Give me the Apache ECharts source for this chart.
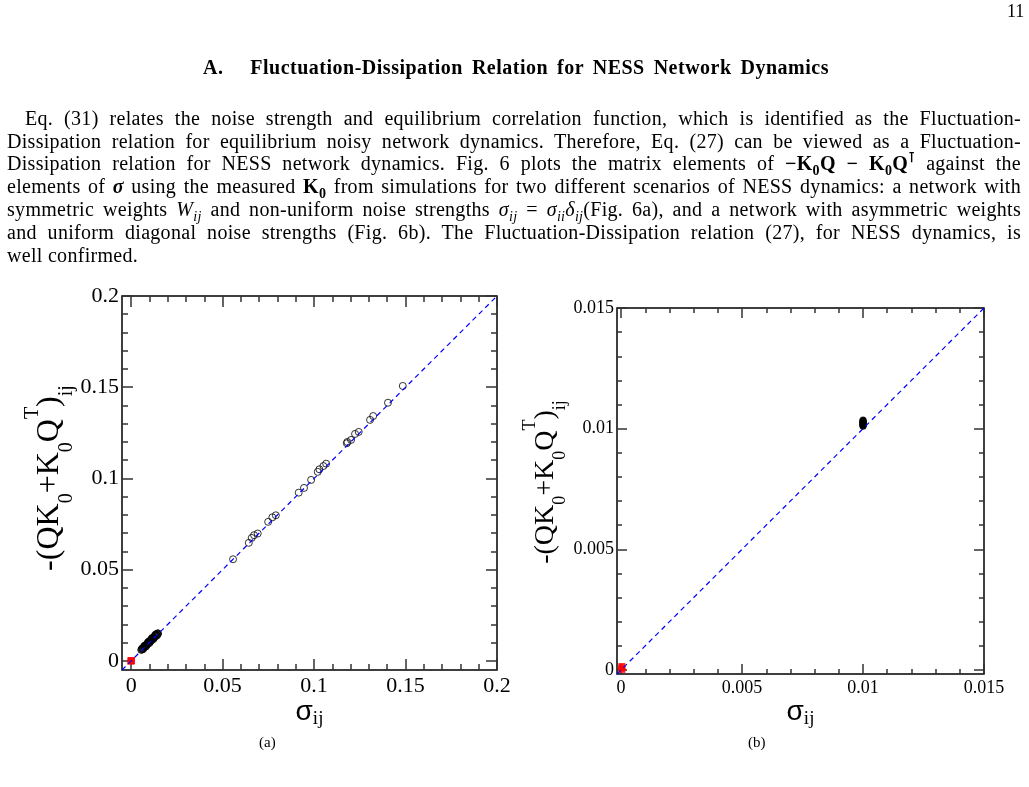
<!DOCTYPE html>
<html>
<head>
<meta charset="utf-8">
<script src="https://cdn.jsdelivr.net/npm/echarts@6/dist/echarts.min.js"></script>
<style>
  html, body { margin:0; padding:0; background:#fff; }
  #wrap { position:relative; width:1029px; height:787px; overflow:hidden; }
  #chart { position:absolute; left:0; top:0; width:1029px; height:787px; }
  .t { position:absolute; font-family:"Liberation Serif","Times New Roman",serif; color:#000; white-space:nowrap; }
  .ln { font-size:20px; line-height:22px; height:22px; letter-spacing:0.3px; text-align:justify; text-align-last:justify; }
  .last { text-align-last:left; }
  b.m { font-weight:bold; }
  sub, sup { font-size:70%; line-height:0; }
</style>
</head>
<body>
<div id="wrap">
  <div id="chart"></div>
  <div class="t" style="left:1007px;top:1px;font-size:18px;">11</div>
  <div class="t" style="left:203px;top:55px;width:626px;font-size:20px;font-weight:bold;line-height:24px;letter-spacing:0.5px;text-align:justify;text-align-last:justify;">A.&nbsp;&nbsp;&nbsp;Fluctuation-Dissipation Relation for NESS Network Dynamics</div>
  <div class="t ln" style="left:25px;top:107px;width:996px;">Eq. (31) relates the noise strength and equilibrium correlation function, which is identified as the Fluctuation-</div>
  <div class="t ln" style="left:7px;top:130px;width:1014px;">Dissipation relation for equilibrium noisy network dynamics. Therefore, Eq. (27) can be viewed as a Fluctuation-</div>
  <div class="t ln" style="left:7px;top:152px;width:1014px;">Dissipation relation for NESS network dynamics. Fig. 6 plots the matrix elements of <b class="m">&minus;K<sub>0</sub>Q &minus; K<sub>0</sub>Q<sup>&#8890;</sup></b> against the</div>
  <div class="t ln" style="left:7px;top:175px;width:1014px;">elements of <b class="m"><i>&sigma;</i></b> using the measured <b class="m">K<sub>0</sub></b> from simulations for two different scenarios of NESS dynamics: a network with</div>
  <div class="t ln" style="left:7px;top:198px;width:1014px;">symmetric weights <i>W<sub>ij</sub></i> and non-uniform noise strengths <i>&sigma;<sub>ij</sub></i> = <i>&sigma;<sub>ii</sub>&delta;<sub>ij</sub></i>(Fig. 6a), and a network with asymmetric weights</div>
  <div class="t ln" style="left:7px;top:221px;width:1014px;">and uniform diagonal noise strengths (Fig. 6b). The Fluctuation-Dissipation relation (27), for NESS dynamics, is</div>
  <div class="t ln last" style="left:7px;top:244px;width:1014px;">well confirmed.</div>
</div>
<script>
// ---------------- data ----------------
// Panel (a): symmetric weights, non-uniform noise
const sigmaA_diag = [0.1485,0.1404,0.1323,0.1306,0.1244,0.1224,0.1202,0.1182,0.1179,0.1066,0.1051,0.1029,0.1020,0.0984,0.0945,0.0916,0.0791,0.0772,0.0749,0.0692,0.0672,0.0659,0.0643,0.0557];
const kqA_diag    = [0.1507,0.1415,0.1342,0.1321,0.1255,0.1244,0.1211,0.1200,0.1193,0.1081,0.1068,0.1050,0.1036,0.0992,0.0948,0.0922,0.0798,0.0787,0.0762,0.0698,0.0689,0.0674,0.0647,0.0557];
const sigmaA_cluster = [0.0055,0.0058,0.0061,0.0063,0.0066,0.0068,0.0071,0.0073,0.0075,0.0078,0.0080,0.0082,0.0085,0.0087,0.0089,0.0092,0.0094,0.0096,0.0099,0.0101,0.0103,0.0106,0.0108,0.0110,0.0113,0.0115,0.0117,0.0120,0.0122,0.0124,0.0127,0.0129,0.0131,0.0134,0.0136,0.0138,0.0141,0.0143,0.0145,0.0147,0.0060,0.0070,0.0090,0.0110,0.0130,0.0065,0.0085,0.0105,0.0125,0.0145,0.0075,0.0095,0.0115,0.0135,0.0080,0.0100,0.0120,0.0140];
const kqA_cluster    = [0.0060,0.0062,0.0066,0.0067,0.0071,0.0072,0.0075,0.0078,0.0079,0.0083,0.0084,0.0087,0.0089,0.0092,0.0093,0.0097,0.0098,0.0101,0.0103,0.0106,0.0107,0.0111,0.0112,0.0115,0.0117,0.0120,0.0122,0.0124,0.0127,0.0129,0.0131,0.0134,0.0136,0.0138,0.0141,0.0143,0.0145,0.0148,0.0150,0.0151,0.0068,0.0079,0.0099,0.0120,0.0140,0.0064,0.0086,0.0106,0.0126,0.0146,0.0085,0.0106,0.0126,0.0146,0.0078,0.0098,0.0118,0.0138];
const sigmaA_off = [0, 0.0002, -0.0002];
const kqA_off    = [0, 0.0002, -0.0001];

// Panel (b): asymmetric weights, uniform noise
const sigmaB_diag = [0.01,0.01,0.01,0.01,0.01,0.01,0.01,0.01,0.01,0.01,0.01,0.01,0.01,0.01];
const kqB_diag    = [0.01010,0.01012,0.01014,0.01016,0.01018,0.01020,0.01022,0.01024,0.01026,0.01028,0.01030,0.01032,0.01034,0.01036];
const sigmaB_off = [0.00003,0.00003,0.00003];
const kqB_off    = [0.00002,0.00008,0.00014];

// axes / ticks
const rangeA = [-0.005, 0.2];
const majorA = [0, 0.05, 0.1, 0.15, 0.2];
const minorA = [0,0.01,0.02,0.03,0.04,0.05,0.06,0.07,0.08,0.09,0.1,0.11,0.12,0.13,0.14,0.15,0.16,0.17,0.18,0.19,0.2];
const rangeB = [-0.00017, 0.015];
const majorB = [0, 0.005, 0.01, 0.015];
const minorB = [0,0.001,0.002,0.003,0.004,0.005,0.006,0.007,0.008,0.009,0.01,0.011,0.012,0.013,0.014,0.015];

// ---------------- build ----------------
const zip = (a, b) => a.map((v, i) => [v, b[i]]);
const SERIF = '"Liberation Serif","Times New Roman",serif';

function yNameRich(big, small, lh, pad) {
  return {
    pad: { width: pad, fontSize: big, lineHeight: lh },
    m: { fontFamily: SERIF, fontSize: big, lineHeight: lh, color: '#000' },
    s: { fontFamily: SERIF, fontSize: small, lineHeight: small + 2, verticalAlign: 'bottom', color: '#000' },
    p: { fontFamily: SERIF, fontSize: small, lineHeight: small, verticalAlign: 'top', color: '#000' }
  };
}
function xNameRich(big, small) {
  return {
    g: { fontFamily: '"Liberation Sans","DejaVu Sans",sans-serif', fontSize: big, lineHeight: Math.round(big * 1.2), color: '#000' },
    s: { fontFamily: SERIF, fontSize: small, lineHeight: small, verticalAlign: 'bottom', color: '#000' }
  };
}

function axesFor(dim, grid, range, major, minor, opt) {
  const pos = dim === 'x' ? ['bottom', 'top'] : ['left', 'right'];
  const base = { gridIndex: grid, type: 'value', min: range[0], max: range[1], splitLine: { show: false }, axisLine: { show: false, onZero: false } };
  const tickStyle = { color: '#333', width: 1.5 };
  const list = [];
  list.push(Object.assign({}, base, {
    position: pos[0],
    axisTick: { inside: true, length: opt.majorLen, customValues: major, lineStyle: tickStyle },
    axisLabel: { customValues: major, margin: opt.margin, fontFamily: SERIF, fontSize: opt.fontSize, color: '#000' },
    name: opt.name, nameLocation: 'middle', nameGap: opt.nameGap, nameRotate: dim === 'y' ? 90 : 0,
    nameTextStyle: { rich: opt.rich }
  }));
  list.push(Object.assign({}, base, { position: pos[0], axisTick: { inside: true, length: opt.minorLen, customValues: minor, lineStyle: tickStyle }, axisLabel: { show: false } }));
  list.push(Object.assign({}, base, { position: pos[1], axisTick: { inside: true, length: opt.majorLen, customValues: major, lineStyle: tickStyle }, axisLabel: { show: false } }));
  list.push(Object.assign({}, base, { position: pos[1], axisTick: { inside: true, length: opt.minorLen, customValues: minor, lineStyle: tickStyle }, axisLabel: { show: false } }));
  return list;
}

const yTitle = '{pad|}{m|-(QK}{s|0}{m|+K}{s|0}{m|Q}{p|T}{m|)}{s|ij}';
const xTitle = '{g|σ}{s|ij}';

const xAxes = [
  ...axesFor('x', 0, rangeA, majorA, minorA, { majorLen: 11, minorLen: 6, margin: 5, fontSize: 22, name: xTitle, nameGap: 18, rich: xNameRich(28, 19) }),
  ...axesFor('x', 1, rangeB, majorB, minorB, { majorLen: 10, minorLen: 5, margin: 5, fontSize: 18, name: xTitle, nameGap: 15, rich: xNameRich(28, 19) })
];
const yAxes = [
  ...axesFor('y', 0, rangeA, majorA, minorA, { majorLen: 11, minorLen: 6, margin: 3, fontSize: 22, name: yTitle, nameGap: 37, rich: yNameRich(32, 20, 54, 10) }),
  ...axesFor('y', 1, rangeB, majorB, minorB, { majorLen: 10, minorLen: 5, margin: 3, fontSize: 18, name: yTitle, nameGap: 43, rich: yNameRich(28, 18, 48, 18) })
];

const chart = echarts.init(document.getElementById('chart'), null, { renderer: 'canvas' });
chart.setOption({
  animation: false,
  backgroundColor: 'transparent',
  grid: [
    { left: 122, top: 296, width: 375, height: 374, show: true, borderColor: '#000', borderWidth: 1.5, backgroundColor: 'transparent' },
    { left: 617, top: 308, width: 367, height: 366, show: true, borderColor: '#000', borderWidth: 1.5, backgroundColor: 'transparent' }
  ],
  xAxis: xAxes,
  yAxis: yAxes,
  graphic: [
    { type: 'text', left: 259, top: 736, style: { text: '(a)', font: '15px ' + SERIF, fill: '#000' } },
    { type: 'text', left: 748, top: 736, style: { text: '(b)', font: '15px ' + SERIF, fill: '#000' } }
  ],
  series: [
    { type: 'scatter', xAxisIndex: 0, yAxisIndex: 0, data: zip(sigmaA_off, kqA_off), symbol: 'rect', symbolSize: 7, itemStyle: { color: '#ff0000' }, z: 2 },
    { type: 'scatter', xAxisIndex: 0, yAxisIndex: 0, data: zip(sigmaA_diag.concat(sigmaA_cluster), kqA_diag.concat(kqA_cluster)), symbol: 'circle', symbolSize: 7, itemStyle: { color: 'rgba(0,0,0,0)', borderColor: '#000', borderWidth: 1 }, z: 3 },
    { type: 'line', xAxisIndex: 0, yAxisIndex: 0, data: [[rangeA[0], rangeA[0]], [rangeA[1], rangeA[1]]], symbol: 'none', lineStyle: { color: '#0000ff', width: 1.2, type: [5, 4] }, z: 4 },
    { type: 'scatter', xAxisIndex: 4, yAxisIndex: 4, data: zip(sigmaB_off, kqB_off), symbol: 'rect', symbolSize: 7, itemStyle: { color: '#ff0000' }, z: 2 },
    { type: 'scatter', xAxisIndex: 4, yAxisIndex: 4, data: zip(sigmaB_diag, kqB_diag), symbol: 'circle', symbolSize: 7, itemStyle: { color: '#000' }, z: 3 },
    { type: 'line', xAxisIndex: 4, yAxisIndex: 4, data: [[rangeB[0], rangeB[0]], [rangeB[1], rangeB[1]]], symbol: 'none', lineStyle: { color: '#0000ff', width: 1.2, type: [5, 4] }, z: 4 }
  ]
});
</script>
</body>
</html>
